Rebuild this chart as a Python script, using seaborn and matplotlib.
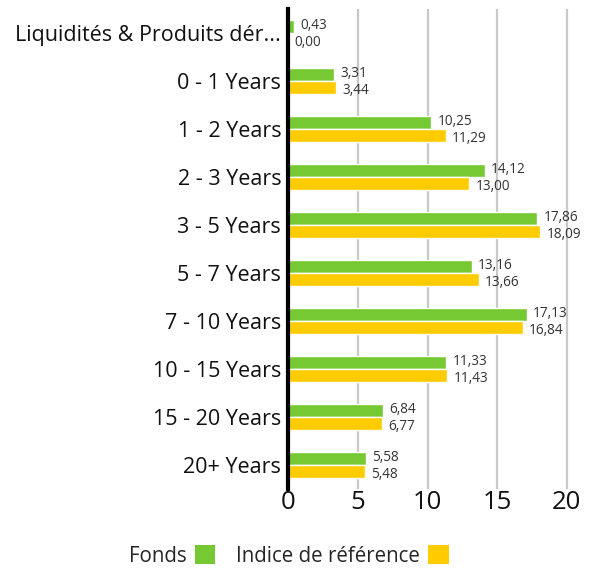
import pandas as pd
import matplotlib.pyplot as plt
import seaborn as sns
from matplotlib.patches import Patch

# Data
categories = ['Liquidités & Produits dér...', '0 - 1 Years', '1 - 2 Years', '2 - 3 Years',
              '3 - 5 Years', '5 - 7 Years', '7 - 10 Years', '10 - 15 Years',
              '15 - 20 Years', '20+ Years']
fonds = [0.43, 3.31, 10.25, 14.12, 17.86, 13.16, 17.13, 11.33, 6.84, 5.58]
indice = [0.00, 3.44, 11.29, 13.00, 18.09, 13.66, 16.84, 11.43, 6.77, 5.48]
series = ['Fonds', 'Indice de référence']
colors = ['#76C933', '#FFCC00']

df = pd.DataFrame({
    'Catégorie': categories * 2,
    'Valeur': fonds + indice,
    'Série': [series[0]] * len(categories) + [series[1]] * len(categories),
})

sns.set_theme(style='white')
plt.rcParams['font.family'] = ['Open Sans', 'DejaVu Sans']

fig = plt.figure(figsize=(5.99, 5.72), dpi=100)
ax = fig.add_axes([0.481, 0.145, 0.505, 0.839])

sns.barplot(data=df, x='Valeur', y='Catégorie', hue='Série', order=categories,
            hue_order=series, palette=colors, orient='h', width=0.53,
            saturation=1, ax=ax, legend=False)

# value labels with comma decimal, pushed slightly apart vertically
for cont, vals, dy in zip(ax.containers, [fonds, indice], [1, -2.5]):
    anns = ax.bar_label(cont, labels=[f'{v:.2f}'.replace('.', ',') for v in vals],
                        padding=4.5, fontsize=9.8, color='#333333')
    for a in anns:
        a.xyann = (a.xyann[0], dy)

ax.set_xlim(0, 21.7)
ax.set_xticks([0, 5, 10, 15, 20])
ax.xaxis.grid(True, color='#c8c8c8', linewidth=1.6)
ax.set_axisbelow(True)
ax.set_xlabel('')
ax.set_ylabel('')
ax.tick_params(axis='y', labelsize=15.5, length=0, pad=5, labelcolor='#111111')
ax.tick_params(axis='x', labelsize=18.5, length=0, pad=1, labelcolor='#111111')
for s in ['top', 'right', 'bottom']:
    ax.spines[s].set_visible(False)
ax.spines['left'].set_color('black')
ax.spines['left'].set_linewidth(3)

# legend with swatch after the text
handles = [Patch(facecolor=c, edgecolor='none') for c in colors]
fig.legend(handles, series, loc='center', bbox_to_anchor=(0.482, 0.028), ncol=2,
           frameon=False, markerfirst=False, fontsize=14.8, handlelength=1.0,
           handleheight=1.0, handletextpad=0.4, columnspacing=1.0)

fig.savefig('out.png', dpi=100)
